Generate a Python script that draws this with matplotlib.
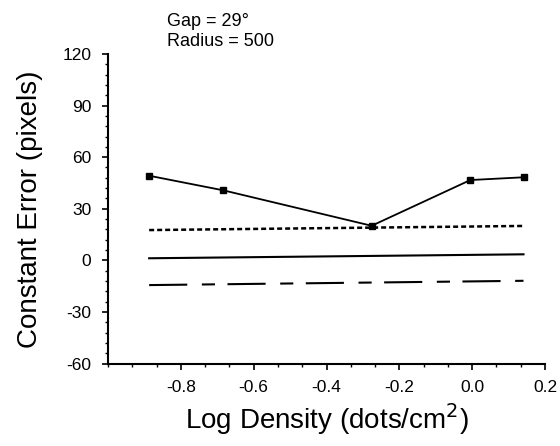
import matplotlib
matplotlib.use("Agg")
import matplotlib.pyplot as plt
from matplotlib.ticker import MultipleLocator, FixedLocator

# ---- data ----
log_density = [-0.887, -0.683, -0.276, -0.005, 0.141]
constant_error = [49.2, 40.7, 20.1, 46.7, 48.3]

line_x = [-0.887, 0.141]
short_dash_y = [17.6, 20.0]
solid_y = [1.2, 3.5]
long_dash_y = [-14.4, -11.9]

x_ticks = [-0.8, -0.6, -0.4, -0.2, 0.0, 0.2]
x_tick_labels = ["-0.8", "-0.6", "-0.4", "-0.2", "0.0", "0.2"]
y_ticks = [-60, -30, 0, 30, 60, 90, 120]
y_tick_labels = ["-60", "-30", "0", "30", "60", "90", "120"]

annot_lines = ["Gap = 29\u00b0", "Radius = 500"]

# ---- figure ----
narrow = ["Liberation Sans Narrow", "DejaVu Sans Condensed", "Liberation Sans", "DejaVu Sans"]
regular = ["Liberation Sans", "DejaVu Sans"]

fig = plt.figure(figsize=(5.6, 4.46), dpi=100)
ax = fig.add_axes([108 / 560, 1 - 363.5 / 446, (545 - 108) / 560, (363.5 - 54) / 446])

ax.plot(log_density, constant_error, color="black", lw=1.3, marker="s",
        markersize=4.8, markerfacecolor="black", markeredgecolor="black")
ax.plot(line_x, short_dash_y, color="black", lw=1.8, dashes=(2.0, 1.2))
ax.plot(line_x, solid_y, color="black", lw=1.5)
ax.plot(line_x, long_dash_y, color="black", lw=1.5, dashes=(18.3, 7.0, 6.3, 6.0))

ax.set_xlim(-1.0, 0.2)
ax.set_ylim(-60, 120)

for s in ["top", "right"]:
    ax.spines[s].set_visible(False)
for s in ["left", "bottom"]:
    ax.spines[s].set_linewidth(1.5)

ax.xaxis.set_major_locator(FixedLocator(x_ticks))
ax.set_xticklabels(x_tick_labels, fontfamily=narrow, fontsize=12.5)
ax.xaxis.set_minor_locator(MultipleLocator(0.2 / 3))
ax.yaxis.set_major_locator(FixedLocator(y_ticks))
ax.set_yticklabels(y_tick_labels, fontfamily=narrow, fontsize=12.5)
ax.yaxis.set_minor_locator(MultipleLocator(6))

ax.tick_params(axis="both", which="major", direction="out", length=4, width=1.2)
ax.tick_params(axis="both", which="minor", direction="out", length=2.5, width=1.0)
ax.tick_params(axis="x", which="major", pad=8)
ax.tick_params(axis="y", which="major", pad=8)

ax.set_xlabel("Log Density (dots/cm$^{2}$)", fontfamily=regular, fontsize=20, labelpad=4)
ax.set_ylabel("Constant Error (pixels)", fontfamily=regular, fontsize=20, labelpad=14)

fig.text(167 / 560, 1 - 21 / 446, annot_lines[0], fontfamily=narrow, fontsize=13,
         ha="left", va="center")
fig.text(167 / 560, 1 - 42 / 446, annot_lines[1], fontfamily=narrow, fontsize=13,
         ha="left", va="center")

fig.savefig("out.png", dpi=100)
